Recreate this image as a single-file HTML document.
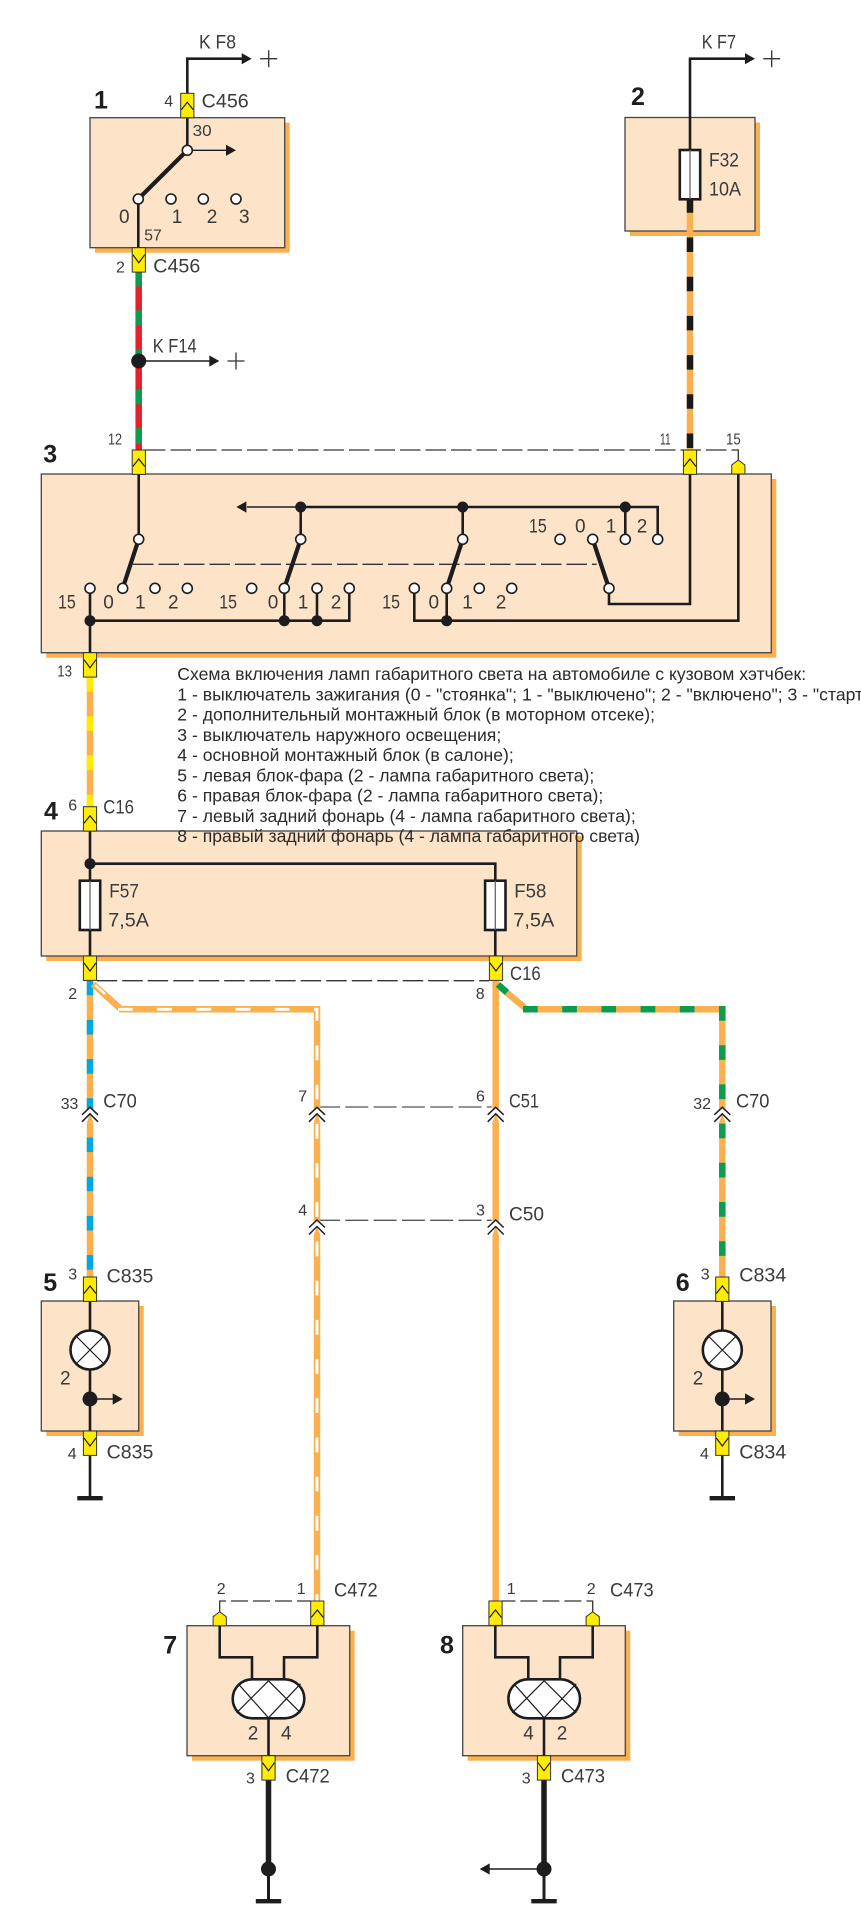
<!DOCTYPE html>
<html><head><meta charset="utf-8"><title>Схема включения ламп габаритного света</title>
<style>
html,body{margin:0;padding:0;background:#fff}
svg{display:block}
text{font-family:"Liberation Sans",sans-serif;fill:#3a3a3a}
.l{font-size:19px}.s{font-size:16px}
.b{font-size:25px;font-weight:bold;fill:#1f1f1f}
.t{font-size:17.6px;fill:#2a2a2a}
.box{fill:#fde3c8;stroke:#444;stroke-width:1.3}
.sh{fill:#fbb04f}
.w{fill:none;stroke:#1d1d1f;stroke-width:2.6}
.tk{fill:none;stroke:#1d1d1f;stroke-width:4.2}
.th{fill:none;stroke:#1d1d1f;stroke-width:1.4}
.d{fill:none;stroke:#333;stroke-width:1.3;stroke-dasharray:20.5 5}
.d2{fill:none;stroke:#555;stroke-width:1.3;stroke-dasharray:23 5.3}
.o{fill:none;stroke:#fbb04f;stroke-width:6.5}
.n{fill:#1d1d1f}
.c{fill:#fff;stroke:#1d1d1f;stroke-width:1.6}
</style></head><body>
<svg width="861" height="1920" viewBox="0 0 861 1920" xmlns="http://www.w3.org/2000/svg">
<defs>
<g id="up"><rect x="-6.6" y="0" width="13.2" height="24.4" fill="#ffec00" stroke="#333" stroke-width="1"/><polyline points="-6,16.5 0,9 6,16.5" fill="none" stroke="#1d1d1f" stroke-width="1.2"/></g>
<g id="dn"><rect x="-6.6" y="0" width="13.2" height="24.4" fill="#ffec00" stroke="#333" stroke-width="1"/><polyline points="-6,7 0,15 6,7" fill="none" stroke="#1d1d1f" stroke-width="1.2"/></g>
<g id="pent"><polygon points="-6.6,14 -6.6,5 0,0 6.6,5 6.6,14" fill="#ffec00" stroke="#333" stroke-width="1"/></g>
<g id="chev"><polygon points="-8,7.5 0,0 8,7.5 8,15 -8,15" fill="#fff"/><polygon points="-3.2,15 0,6.5 3.2,15" fill="#fbb04f"/><polyline points="-8,7.5 0,0 8,7.5" fill="none" stroke="#1d1d1f" stroke-width="1.5"/><polyline points="-8,14.5 0,6.5 8,14.5" fill="none" stroke="#1d1d1f" stroke-width="1.5"/></g>
<g id="arR"><polygon points="0,-5.6 10,0 0,5.6" class="n"/></g>
<g id="arL"><polygon points="0,-5.6 -10,0 0,5.6" class="n"/></g>
<g id="plus"><path d="M-8.5,0H8.5M0,-8.5V8.5" fill="none" stroke="#333" stroke-width="1.3"/></g>
<g id="fuse"><rect x="-10.2" y="0" width="20.4" height="49.3" fill="#fff" stroke="#1d1d1f" stroke-width="2.6"/><line x1="0" y1="0" x2="0" y2="49" stroke="#666" stroke-width="1.3"/></g>
<g id="lamp"><circle r="19.5" fill="#fff" stroke="#1d1d1f" stroke-width="2.6"/><path d="M-13.5,-13.5L13.5,13.5M-13.5,13.5L13.5,-13.5" stroke="#1d1d1f" stroke-width="1.2"/></g>
<g id="oval"><rect x="-35.8" y="-19.5" width="71.6" height="39" rx="19.5" fill="#fff" stroke="#1d1d1f" stroke-width="2.6"/><path d="M-30.3,-15L0,19M0,-18L-32,14M0,19L32,-15M0,-18L32,14" fill="none" stroke="#1d1d1f" stroke-width="1.2"/></g>
<g id="gnd"><rect x="-12.7" y="-2" width="25.4" height="4.4" class="n"/></g>
</defs>

<!-- boxes with shadow -->
<rect class="sh" x="95" y="122.7" width="194.7" height="130"/><rect class="box" x="90" y="117.7" width="194.7" height="130"/>
<rect class="sh" x="630" y="122.5" width="130" height="113.5"/><rect class="box" x="625" y="117.5" width="130" height="113.5"/>
<rect class="sh" x="46.3" y="479" width="730" height="178.7"/><rect class="box" x="41.3" y="474" width="730" height="178.7"/>
<rect class="sh" x="46.3" y="836" width="535.4" height="125"/><rect class="box" x="41.3" y="831" width="535.4" height="125"/>
<rect class="sh" x="46.3" y="1306" width="97.4" height="130"/><rect class="box" x="41.3" y="1301" width="97.4" height="130"/>
<rect class="sh" x="678.7" y="1306" width="97.3" height="130"/><rect class="box" x="673.7" y="1301" width="97.3" height="130"/>
<rect class="sh" x="192" y="1630.7" width="162.7" height="130"/><rect class="box" x="187" y="1625.7" width="162.7" height="130"/>
<rect class="sh" x="467.7" y="1630.7" width="162.6" height="130"/><rect class="box" x="462.7" y="1625.7" width="162.6" height="130"/>

<!-- dashed links -->
<path class="d" d="M145,450H738.3V460"/>
<path class="d" d="M133,564.3H596.7"/>
<path class="d" d="M96.7,980.7H489"/>
<path class="d2" d="M317,1107H491.7"/>
<path class="d2" d="M317,1220.3H491.7"/>
<path class="d" style="stroke-dasharray:17 5" d="M219.7,1611.7V1601H311"/>
<path class="d" style="stroke-dasharray:17 5" d="M592.7,1611.7V1601H502"/>

<!-- switch 1 -->
<path class="w" d="M242,58.7H187.3V150"/>
<use href="#arR" x="241.7" y="58.7"/><use href="#plus" x="268.7" y="58.7"/>
<path class="th" d="M187.3,150.3H227"/><use href="#arR" x="226" y="150.3"/>
<path class="tk" d="M187.3,150.3L138.3,199"/>
<path class="w" d="M138.3,199V247.7"/>
<circle class="c" cx="187.3" cy="150.3" r="5"/><circle class="c" cx="138.3" cy="199" r="5"/><circle class="c" cx="171" cy="199" r="5"/><circle class="c" cx="203.3" cy="199" r="5"/><circle class="c" cx="236" cy="199" r="5"/>

<!-- wire 1-3 -->
<line x1="138.7" y1="271" x2="138.7" y2="450" stroke="#e3202c" stroke-width="6.5"/>
<line x1="138.7" y1="271" x2="138.7" y2="450" stroke="#0d9b50" stroke-width="6.5" stroke-dasharray="15.5 23.8"/>
<circle class="n" cx="138.7" cy="361" r="7.5"/>
<path class="th" d="M138.7,361H210"/><use href="#arR" x="209.3" y="361"/><use href="#plus" x="236" y="361"/>

<!-- block 2 -->
<path class="w" d="M745.5,58.7H690V150"/>
<use href="#arR" x="745" y="58.7"/><use href="#plus" x="771.7" y="58.7"/>
<line class="o" x1="690" y1="199" x2="690" y2="450"/>
<line x1="690" y1="198.3" x2="690" y2="448" stroke="#1a1a1a" stroke-width="6.5" stroke-dasharray="14.5 24.7"/>
<use href="#fuse" x="690" y="150"/>

<!-- block 3 wiring -->
<path class="w" d="M138.7,474V539.3"/>
<path class="tk" d="M138.7,539.3L122.7,588.3M300.7,539.3L284.3,588.3M462.7,539.3L446.7,588.3M592.7,539.3L609,588.3"/>
<path class="th" d="M300.7,507H247"/><use href="#arL" x="246.4" y="507"/>
<path class="w" d="M300.7,507H657.7V539.3M300.7,507V539.3M462.7,507V539.3M625.3,507V539.3"/>
<path class="w" d="M90,588.3V652.7M90,620.7H349.3V588.3M284.3,588.3V620.7M317,588.3V620.7"/>
<path class="w" d="M414.3,588.3V620.7H738.3V474M446.7,588.3V620.7"/>
<path class="w" d="M690,474V604H609V588.3"/>
<g class="n"><circle cx="300.7" cy="507" r="5.5"/><circle cx="462.7" cy="507" r="5.5"/><circle cx="625.3" cy="507" r="5.5"/><circle cx="90" cy="620.7" r="5.5"/><circle cx="284.3" cy="620.7" r="5.5"/><circle cx="317" cy="620.7" r="5.5"/><circle cx="446.7" cy="620.7" r="5.5"/></g>
<g class="c"><circle cx="138.7" cy="539.3" r="5"/><circle cx="300.7" cy="539.3" r="5"/><circle cx="462.7" cy="539.3" r="5"/><circle cx="560" cy="539.3" r="5"/><circle cx="592.7" cy="539.3" r="5"/><circle cx="625.3" cy="539.3" r="5"/><circle cx="657.7" cy="539.3" r="5"/>
<circle cx="90" cy="588.3" r="5"/><circle cx="122.7" cy="588.3" r="5"/><circle cx="155" cy="588.3" r="5"/><circle cx="187.3" cy="588.3" r="5"/><circle cx="251.7" cy="588.3" r="5"/><circle cx="284.3" cy="588.3" r="5"/><circle cx="317" cy="588.3" r="5"/><circle cx="349.3" cy="588.3" r="5"/><circle cx="414.3" cy="588.3" r="5"/><circle cx="446.7" cy="588.3" r="5"/><circle cx="479.3" cy="588.3" r="5"/><circle cx="511.7" cy="588.3" r="5"/><circle cx="609" cy="588.3" r="5"/></g>

<!-- wire 3-4 -->
<line class="o" x1="90" y1="677" x2="90" y2="806.7"/>
<line x1="90" y1="677" x2="90" y2="806.7" stroke="#ffec00" stroke-width="6.5" stroke-dasharray="14.7 24.5"/>

<!-- block 4 wiring -->
<path class="w" d="M90,831V880.7M90,930V956M90,863.7H495.3V880.7M495.3,930V956"/>
<circle class="n" cx="90" cy="863.7" r="5.5"/>
<use href="#fuse" x="90" y="880.7"/><use href="#fuse" x="495.3" y="880.7"/>

<!-- lower wires -->
<line class="o" x1="90" y1="980.7" x2="90" y2="1277"/>
<line x1="90" y1="980.7" x2="90" y2="1277" stroke="#00a7e1" stroke-width="6.5" stroke-dasharray="14.6 24.6"/>

<path class="o" d="M93,984L121,1009.3H317V1601"/>
<path fill="none" stroke="#fff" stroke-width="2.8" d="M118,1009.3H317V1601" stroke-dasharray="14.7 24.5"/>
<path fill="none" stroke="#fff" stroke-width="2.4" d="M95,985L105,994"/>

<line class="o" x1="495.7" y1="980.7" x2="495.7" y2="1601"/>

<path class="o" d="M494,982L526.7,1009.3H722.3V1277"/>
<path fill="none" stroke="#0d9b50" stroke-width="6.5" d="M523,1009.3H722.3V1277" stroke-dasharray="14.7 24.5"/>
<line x1="498" y1="984.5" x2="507" y2="992.5" stroke="#0d9b50" stroke-width="6.5"/>

<use href="#chev" x="90" y="1107.3"/><use href="#chev" x="317" y="1107.3"/><use href="#chev" x="495.7" y="1107.3"/><use href="#chev" x="722.3" y="1107.3"/>
<use href="#chev" x="317" y="1220"/><use href="#chev" x="495.7" y="1220"/>

<!-- block 5 -->
<path class="w" d="M90,1301V1331M90,1369V1431M90,1455.7V1498"/>
<use href="#lamp" x="90" y="1350"/>
<circle class="n" cx="90" cy="1399" r="7.5"/><path class="th" d="M90,1399H113"/><use href="#arR" x="112.7" y="1399"/>
<use href="#gnd" x="90" y="1498"/>
<!-- block 6 -->
<path class="w" d="M722.3,1301V1331M722.3,1369V1431M722.3,1455.7V1498"/>
<use href="#lamp" x="722.3" y="1350"/>
<circle class="n" cx="722.3" cy="1399" r="7.5"/><path class="th" d="M722.3,1399H745"/><use href="#arR" x="745" y="1399"/>
<use href="#gnd" x="722.3" y="1498"/>

<!-- block 7 -->
<path class="w" d="M219.7,1625.7V1657.3H252V1680M317.3,1625.7V1657.3H284V1680M268.5,1718V1755.7"/>
<use href="#oval" x="268.5" y="1698.8"/>
<line x1="268.5" y1="1780" x2="268.5" y2="1869" stroke="#1d1d1f" stroke-width="5.5"/>
<line x1="268.5" y1="1869" x2="268.5" y2="1901" stroke="#1d1d1f" stroke-width="3"/>
<circle class="n" cx="268.5" cy="1869" r="7.5"/>
<use href="#gnd" x="268.5" y="1901"/>
<!-- block 8 -->
<path class="w" d="M495.3,1625.7V1657.3H528.3V1680M592.7,1625.7V1657.3H560V1680M544,1718V1755.7"/>
<use href="#oval" x="544.2" y="1698.8"/>
<line x1="544" y1="1780" x2="544" y2="1869" stroke="#1d1d1f" stroke-width="5.5"/>
<line x1="544" y1="1869" x2="544" y2="1901" stroke="#1d1d1f" stroke-width="3"/>
<path class="th" d="M544,1869H489"/><use href="#arL" x="489.7" y="1869"/>
<circle class="n" cx="544" cy="1869" r="7.5"/>
<use href="#gnd" x="544" y="1901"/>

<!-- connectors -->
<use href="#up" x="187.3" y="93.3"/><use href="#dn" x="138.8" y="247.7"/>
<use href="#up" x="138.8" y="450"/><use href="#up" x="690" y="450"/><use href="#pent" x="738.3" y="460"/>
<use href="#dn" x="90" y="652.7"/><use href="#up" x="90" y="806.7"/>
<use href="#dn" x="90" y="956"/><use href="#dn" x="496" y="956"/>
<use href="#up" x="90" y="1277"/><use href="#dn" x="90" y="1431"/>
<use href="#up" x="722.3" y="1277"/><use href="#dn" x="722.3" y="1431"/>
<use href="#pent" x="219.7" y="1611.7"/><use href="#up" x="317.3" y="1601"/><use href="#dn" x="268.5" y="1755.7"/>
<use href="#pent" x="592.7" y="1611.7"/><use href="#up" x="495.5" y="1601"/><use href="#dn" x="544" y="1755.7"/>

<!-- bold numbers -->
<text class="b" x="94" y="108.7">1</text>
<text class="b" x="631" y="105">2</text>
<text class="b" x="43.3" y="462.7">3</text>
<text class="b" x="44" y="819.3">4</text>
<text class="b" x="43.3" y="1291">5</text>
<text class="b" x="675.7" y="1291">6</text>
<text class="b" x="163.3" y="1653.3">7</text>
<text class="b" x="440" y="1653.3">8</text>

<!-- labels -->
<text class="l" x="199" y="48.3" textLength="37" lengthAdjust="spacingAndGlyphs">K F8</text>
<text class="l" x="701.7" y="48.3" textLength="34.3" lengthAdjust="spacingAndGlyphs">K F7</text>
<text class="l" x="152.7" y="352.7" textLength="44" lengthAdjust="spacingAndGlyphs">K F14</text>
<text class="s" x="164.3" y="106.7">4</text>
<text class="l" x="201.7" y="107.7" textLength="47" lengthAdjust="spacingAndGlyphs">C456</text>
<text class="s" x="192.7" y="136" textLength="19" lengthAdjust="spacingAndGlyphs">30</text>
<text class="s" x="144.3" y="240.7" textLength="17.4" lengthAdjust="spacingAndGlyphs">57</text>
<text class="l" x="119" y="223">0</text><text class="l" x="171.7" y="223">1</text><text class="l" x="206.7" y="223">2</text><text class="l" x="239" y="223">3</text>
<text class="s" x="116" y="272.7">2</text>
<text class="l" x="153.3" y="272.7" textLength="47" lengthAdjust="spacingAndGlyphs">C456</text>
<text class="l" x="709" y="166.7" textLength="30" lengthAdjust="spacingAndGlyphs">F32</text>
<text class="l" x="709" y="195.7" textLength="32" lengthAdjust="spacingAndGlyphs">10A</text>
<text class="s" x="108" y="444.3" textLength="14" lengthAdjust="spacingAndGlyphs">12</text>
<text class="s" x="660" y="444.3" textLength="10.7" lengthAdjust="spacingAndGlyphs">11</text>
<text class="s" x="726" y="444.3" textLength="14.7" lengthAdjust="spacingAndGlyphs">15</text>
<g class="l">
<text class="l" x="58" y="608.3" textLength="17.7" lengthAdjust="spacingAndGlyphs">15</text><text class="l" x="103.3" y="608.3">0</text><text class="l" x="135" y="608.3">1</text><text class="l" x="168" y="608.3">2</text>
<text class="l" x="219.3" y="608.3" textLength="17.7" lengthAdjust="spacingAndGlyphs">15</text><text class="l" x="267.7" y="608.3">0</text><text class="l" x="297.7" y="608.3">1</text><text class="l" x="330.7" y="608.3">2</text>
<text class="l" x="382.3" y="608.3" textLength="17.7" lengthAdjust="spacingAndGlyphs">15</text><text class="l" x="428.5" y="608.3">0</text><text class="l" x="462.3" y="608.3">1</text><text class="l" x="495.7" y="608.3">2</text>
<text class="l" x="529" y="532.3" textLength="17.7" lengthAdjust="spacingAndGlyphs">15</text><text class="l" x="575" y="532.3">0</text><text class="l" x="605.7" y="532.3">1</text><text class="l" x="636.7" y="532.3">2</text>
</g>
<text class="s" x="57.3" y="676.7" textLength="14.7" lengthAdjust="spacingAndGlyphs">13</text>
<text class="s" x="68.3" y="810.7">6</text>
<text class="l" x="103.3" y="813.3" textLength="30.7" lengthAdjust="spacingAndGlyphs">C16</text>
<text class="l" x="109.3" y="897.3" textLength="29.6" lengthAdjust="spacingAndGlyphs">F57</text>
<text class="l" x="108.3" y="926.7" textLength="40.7" lengthAdjust="spacingAndGlyphs">7,5A</text>
<text class="l" x="514.3" y="897.3" textLength="32" lengthAdjust="spacingAndGlyphs">F58</text>
<text class="l" x="513.3" y="926.7" textLength="41" lengthAdjust="spacingAndGlyphs">7,5A</text>
<text class="s" x="68.3" y="999">2</text><text class="s" x="475.7" y="999">8</text>
<text class="l" x="510" y="980" textLength="30.7" lengthAdjust="spacingAndGlyphs">C16</text>
<text class="s" x="60.7" y="1109" textLength="17.7" lengthAdjust="spacingAndGlyphs">33</text>
<text class="l" x="103.3" y="1107.3" textLength="33.4" lengthAdjust="spacingAndGlyphs">C70</text>
<text class="s" x="298.3" y="1101.7">7</text><text class="s" x="298.3" y="1215.7">4</text>
<text class="s" x="476" y="1101.7">6</text><text class="s" x="476" y="1215.7">3</text>
<text class="l" x="509" y="1107.3" textLength="30" lengthAdjust="spacingAndGlyphs">C51</text>
<text class="l" x="509" y="1220.7" textLength="35" lengthAdjust="spacingAndGlyphs">C50</text>
<text class="s" x="693.3" y="1109" textLength="17.7" lengthAdjust="spacingAndGlyphs">32</text>
<text class="l" x="736" y="1107.3" textLength="33.4" lengthAdjust="spacingAndGlyphs">C70</text>
<text class="s" x="68.3" y="1279.3">3</text>
<text class="l" x="106.7" y="1282.3" textLength="46.7" lengthAdjust="spacingAndGlyphs">C835</text>
<text class="l" x="60" y="1384.3">2</text>
<text class="s" x="67.7" y="1459">4</text>
<text class="l" x="106.7" y="1458.3" textLength="46.7" lengthAdjust="spacingAndGlyphs">C835</text>
<text class="s" x="700.7" y="1279.3">3</text>
<text class="l" x="739.3" y="1281.7" textLength="47" lengthAdjust="spacingAndGlyphs">C834</text>
<text class="l" x="692.7" y="1384.3">2</text>
<text class="s" x="700" y="1459">4</text>
<text class="l" x="739.3" y="1458.3" textLength="47" lengthAdjust="spacingAndGlyphs">C834</text>
<text class="s" x="216.7" y="1594">2</text><text class="s" x="296.7" y="1594">1</text>
<text class="l" x="334" y="1596.7" textLength="43.7" lengthAdjust="spacingAndGlyphs">C472</text>
<text class="l" x="247.7" y="1739.3">2</text><text class="l" x="281" y="1739.3">4</text>
<text class="s" x="246" y="1783.3">3</text>
<text class="l" x="285.7" y="1782.7" textLength="44" lengthAdjust="spacingAndGlyphs">C472</text>
<text class="s" x="506.7" y="1594">1</text><text class="s" x="586.7" y="1594">2</text>
<text class="l" x="610" y="1596.7" textLength="43.7" lengthAdjust="spacingAndGlyphs">C473</text>
<text class="l" x="523.3" y="1739.3">4</text><text class="l" x="556.7" y="1739.3">2</text>
<text class="s" x="521.7" y="1783.3">3</text>
<text class="l" x="561" y="1782.7" textLength="44" lengthAdjust="spacingAndGlyphs">C473</text>

<!-- caption -->
<text class="t" x="177.3" y="680">Схема включения ламп габаритного света на автомобиле с кузовом хэтчбек:</text>
<text class="t" x="177.3" y="700.3">1 - выключатель зажигания (0 - "стоянка"; 1 - "выключено"; 2 - "включено"; 3 - "стартер");</text>
<text class="t" x="177.3" y="720.5">2 - дополнительный монтажный блок (в моторном отсеке);</text>
<text class="t" x="177.3" y="740.8">3 - выключатель наружного освещения;</text>
<text class="t" x="177.3" y="761">4 - основной монтажный блок (в салоне);</text>
<text class="t" x="177.3" y="781.3">5 - левая блок-фара (2 - лампа габаритного света);</text>
<text class="t" x="177.3" y="801.5">6 - правая блок-фара (2 - лампа габаритного света);</text>
<text class="t" x="177.3" y="821.8">7 - левый задний фонарь (4 - лампа габаритного света);</text>
<text class="t" x="177.3" y="842">8 - правый задний фонарь (4 - лампа габаритного света)</text>
</svg>
</body></html>
